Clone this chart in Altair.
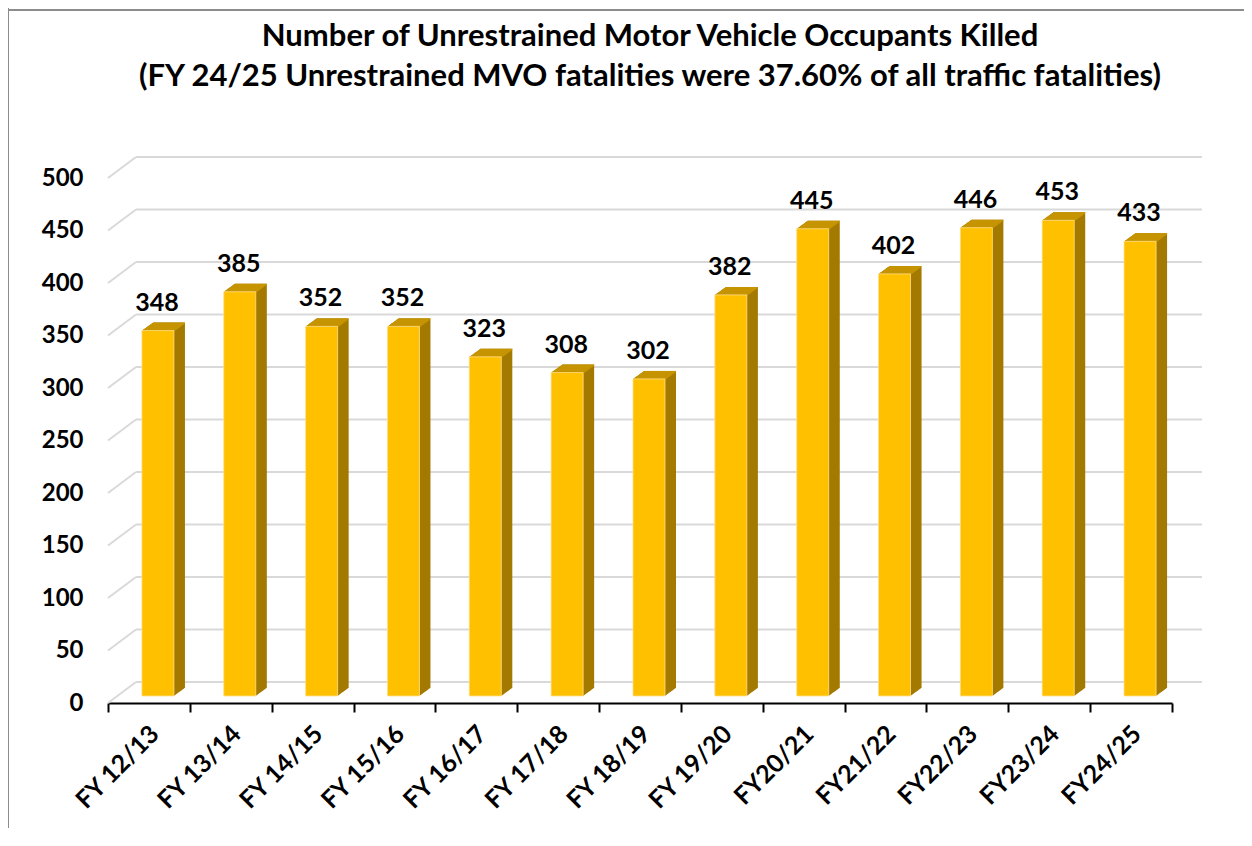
import altair as alt
import pandas as pd

categories = ["FY 12/13", "FY 13/14", "FY 14/15", "FY 15/16", "FY 16/17", "FY 17/18",
              "FY 18/19", "FY 19/20", "FY20/21", "FY21/22", "FY22/23", "FY23/24", "FY24/25"]
values = [348, 385, 352, 352, 323, 308, 302, 382, 445, 402, 446, 453, 433]
grid_values = [0, 50, 100, 150, 200, 250, 300, 350, 400, 450, 500]

title_lines = ["Number of Unrestrained Motor Vehicle Occupants Killed",
               "(FY 24/25 Unrestrained MVO fatalities were 37.60% of all traffic fatalities)"]

FONT = "Lato"
FRONT = "#FFC000"
SIDE = "#A47A00"
TOP = "#C69400"
GRID = "#D9D9D9"

W, H = 1064, 525
df = pd.DataFrame({"cat": categories, "val": values})
gdf = pd.DataFrame({"g": grid_values})

xenc = alt.X("cat:N", sort=categories, title=None,
             scale=alt.Scale(paddingInner=0, paddingOuter=0),
             axis=alt.Axis(labelAngle=-45, labelAlign="right", labelBaseline="top",
                           labelFont=FONT, labelFontSize=25, labelFontWeight="bold",
                           labelColor="#000000", labelPadding=9, labelOffset=-3,
                           tickBand="extent", tickSize=9, tickWidth=2, tickColor="#000000",
                           domainColor="#000000", domainWidth=2, grid=False))
yscale = alt.Scale(domain=[0, 500], nice=False, zero=True)
yenc = alt.Y("val:Q", scale=yscale, title=None,
             axis=alt.Axis(values=grid_values, labelFont=FONT, labelFontSize=24,
                           labelFontWeight="bold", labelColor="#000000", labelPadding=25,
                           domain=False, ticks=False, grid=False))

base = alt.Chart(df)

# back wall gridlines
DX, DY = 28, 21
grid_back = alt.Chart(gdf).mark_rule(color=GRID, strokeWidth=2, yOffset=-DY, y2Offset=-DY).encode(
    y=alt.Y("g:Q", scale=yscale), y2="g:Q",
    x=alt.value(DX), x2=alt.value(W + 30))
grid_side = alt.Chart(gdf).mark_rule(color=GRID, strokeWidth=2, y2Offset=-DY).encode(
    y=alt.Y("g:Q", scale=yscale), y2="g:Q",
    x=alt.value(0), x2=alt.value(DX))

layers = [grid_back, grid_side]

BX = 9        # shift of front face from band centre
BW = 32       # bar width
DEPTH_X, DEPTH_Y = 11, 8
Y0 = -7       # front bars sit above the axis line
N = 22
for i in range(N, 0, -1):
    t = i / N
    ox = BX + DEPTH_X * t
    oy = Y0 - DEPTH_Y * t
    layers.append(base.mark_bar(color=SIDE, width=BW, xOffset=ox, yOffset=oy, y2Offset=oy).encode(
        x=xenc, y=yenc, y2=alt.datum(0)))
for i in range(N, 0, -1):
    t = i / N
    ox = BX + DEPTH_X * t
    oy = Y0 - DEPTH_Y * t
    layers.append(base.mark_bar(color=TOP, width=BW, xOffset=ox, yOffset=oy, y2Offset=oy + 1.2).encode(
        x=xenc, y=yenc, y2="val:Q"))

front = base.mark_bar(color=FRONT, width=BW, xOffset=BX, yOffset=Y0, y2Offset=Y0,
                      stroke="#FFE08A", strokeWidth=0.8).encode(x=xenc, y=yenc, y2=alt.datum(0))
labels = base.mark_text(font=FONT, fontSize=25, fontWeight="bold", color="#000000",
                        baseline="alphabetic", dx=BX - 1, dy=-27).encode(
    x=xenc, y=yenc, text="val:Q")
layers += [front, labels]

frame_left = alt.Chart(gdf.head(1)).mark_rule(color="#8C8C8C", strokeWidth=2).encode(
    x=alt.value(-100), y=alt.value(-170), y2=alt.value(H + 200))
frame_top = alt.Chart(gdf.head(1)).mark_rule(color="#8C8C8C", strokeWidth=2).encode(
    y=alt.value(-168), x=alt.value(-100), x2=alt.value(W + 100))
layers += [frame_left, frame_top]

chart = alt.layer(*layers).properties(
    width=W, height=H,
    background="white",
    autosize=alt.AutoSizeParams(type="none"),
    padding={"left": 100, "top": 170, "right": 72, "bottom": 125},
    title=alt.TitleParams(title_lines, font=FONT, fontSize=31, fontWeight="bold",
                          color="#000000", anchor="middle", frame="group",
                          lineHeight=40, offset=-86, dx=10),
).configure_view(stroke="transparent", strokeWidth=0)

chart.save("out.html", embed_options={"renderer": "svg", "actions": False})
